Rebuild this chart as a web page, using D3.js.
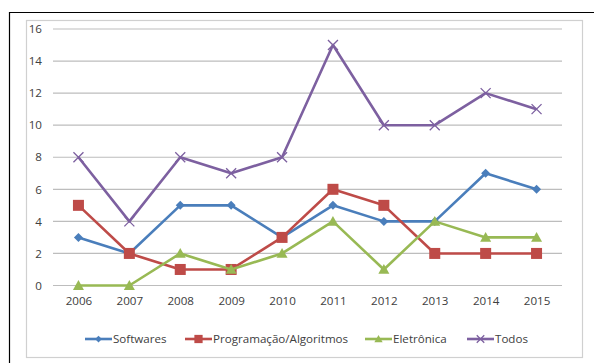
<!DOCTYPE html>
<html><head><meta charset="utf-8">
<script src="https://cdn.jsdelivr.net/npm/d3@7"></script>
<style>body{margin:0;background:#fff}svg{display:block}text{font-family:"Open Sans",sans-serif;fill:#404040}</style>
</head><body>
<script>
const years = ["2006","2007","2008","2009","2010","2011","2012","2013","2014","2015"];
const softwares = [3,2,5,5,3,5,4,4,7,6];
const programacao = [5,2,1,1,3,6,5,2,2,2];
const eletronica = [0,0,2,1,2,4,1,4,3,3];
const todos = [8,4,8,7,8,15,10,10,12,11];
const seriesNames = ["Softwares","Programação/Algoritmos","Eletrônica","Todos"];
const yTicks = [0,2,4,6,8,10,12,14,16];

const series = [
  {name: seriesNames[0], values: softwares, color: "#4a7ebb", marker: "diamond"},
  {name: seriesNames[1], values: programacao, color: "#be4b48", marker: "square"},
  {name: seriesNames[2], values: eletronica, color: "#98b954", marker: "triangle"},
  {name: seriesNames[3], values: todos, color: "#7d60a0", marker: "x"}
];

const W = 594, H = 363;
const svg = d3.select("body").append("svg").attr("width", W).attr("height", H);

svg.append("path").attr("d", `M9.5,${H}V12.5H${W}`).attr("fill","none").attr("stroke","#000").attr("stroke-width",1.2);
svg.append("rect").attr("x",26.5).attr("y",20.5).attr("width",556).attr("height",337)
  .attr("fill","#fff").attr("stroke","#d0d0d0").attr("stroke-width",1.2);

const x = d3.scalePoint().domain(years).range([53,562]).padding(0.5);
const y = d3.scaleLinear().domain([0,16]).range([285.5,29]);

svg.append("g").selectAll("line").data(yTicks).join("line")
  .attr("x1",53).attr("x2",562).attr("y1",d=>y(d)).attr("y2",d=>y(d))
  .attr("stroke","#bdbdbd").attr("stroke-width",1.2);

const FS = 11.6;
const yAxis = d3.axisLeft(y).tickValues(yTicks).tickSize(0).tickPadding(0);
const ya = svg.append("g").attr("transform","translate(42,0)").call(yAxis);
ya.select(".domain").remove();
ya.selectAll("text").attr("font-size",FS).attr("font-family","'Open Sans',sans-serif").attr("fill","#404040");

const xAxis = d3.axisBottom(x).tickSize(0).tickPadding(0);
const xa = svg.append("g").attr("transform","translate(0,296.5)").call(xAxis);
xa.select(".domain").remove();
xa.selectAll("text").attr("font-size",FS).attr("font-family","'Open Sans',sans-serif").attr("fill","#404040");

function drawMarker(g, type, color, size) {
  const s = size;
  if (type === "diamond") {
    g.append("path").attr("d", `M0,${-s}L${s},0L0,${s}L${-s},0Z`).attr("fill",color);
  } else if (type === "square") {
    g.append("rect").attr("x",-s).attr("y",-s).attr("width",2*s).attr("height",2*s).attr("fill",color);
  } else if (type === "triangle") {
    g.append("path").attr("d", `M0,${-s}L${s},${s*0.8}L${-s},${s*0.8}Z`).attr("fill",color);
  } else if (type === "x") {
    g.append("path").attr("d", `M${-s},${-s}L${s},${s}M${-s},${s}L${s},${-s}`).attr("stroke",color).attr("stroke-width",1.3).attr("fill","none");
  }
}

const line = d3.line().x((d,i)=>x(years[i])).y(d=>y(d));
const sizes = {diamond:4.5, square:5.5, triangle:5.5, x:5};
series.forEach(s => {
  const g = svg.append("g");
  g.append("path").attr("d", line(s.values)).attr("fill","none").attr("stroke",s.color)
    .attr("stroke-width",2.6).attr("stroke-linejoin","round");
  s.values.forEach((v,i) => {
    const mg = g.append("g").attr("transform",`translate(${x(years[i])},${y(v)})`);
    drawMarker(mg, s.marker, s.color, sizes[s.marker]);
  });
});

const legendX = [85, 185, 365, 467];
const legY = 339;
series.forEach((s,i) => {
  const g = svg.append("g").attr("transform",`translate(${legendX[i]},${legY})`);
  g.append("line").attr("x1",0).attr("x2",27).attr("y1",0).attr("y2",0).attr("stroke",s.color).attr("stroke-width",2.6);
  const mg = g.append("g").attr("transform","translate(13.5,0)");
  drawMarker(mg, s.marker, s.color, sizes[s.marker]*0.75);
  g.append("text").attr("x",28).attr("y",4).attr("font-size",FS).text(s.name);
});
</script>
</body></html>
